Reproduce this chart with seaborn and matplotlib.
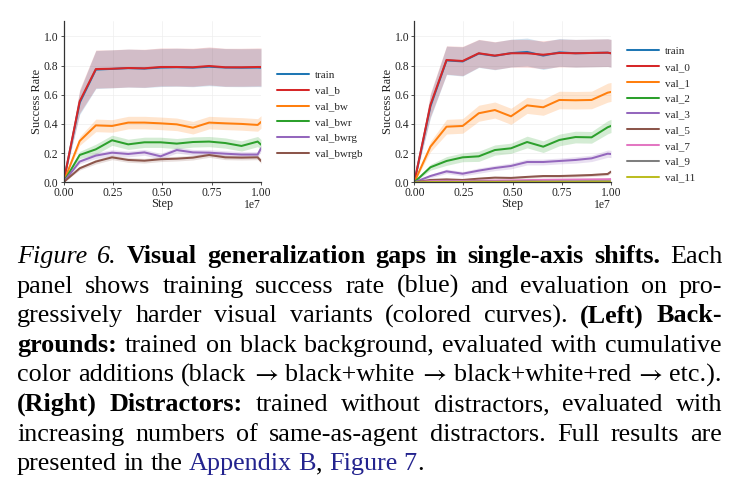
import numpy as np
import pandas as pd
import matplotlib
matplotlib.use('Agg')
import matplotlib.pyplot as plt
import seaborn as sns
from matplotlib.lines import Line2D

# ---------------- data ----------------
steps = [0, 819200, 1638400, 2457600, 3276800, 4096000, 4915200, 5734400,
         6553600, 7372800, 8192000, 9011200, 9830400, 10000000]

# Left panel: backgrounds
left_series = ['train', 'val_b', 'val_bw', 'val_bwr', 'val_bwrg', 'val_bwrgb']
l_train = [0, 0.545, 0.772, 0.777, 0.782, 0.779, 0.786, 0.788, 0.785, 0.792, 0.786, 0.785, 0.786, 0.785]
l_val_b = [0, 0.555, 0.776, 0.778, 0.783, 0.781, 0.790, 0.790, 0.788, 0.797, 0.788, 0.788, 0.790, 0.790]
l_val_bw = [0, 0.283, 0.390, 0.386, 0.409, 0.409, 0.404, 0.397, 0.374, 0.409, 0.404, 0.400, 0.393, 0.413]
l_val_bwr = [0, 0.187, 0.226, 0.288, 0.260, 0.274, 0.274, 0.265, 0.276, 0.279, 0.269, 0.249, 0.279, 0.258]
l_val_bwrg = [0, 0.142, 0.183, 0.203, 0.194, 0.205, 0.178, 0.221, 0.205, 0.203, 0.196, 0.190, 0.190, 0.233]
l_val_bwrgb = [0, 0.096, 0.142, 0.171, 0.153, 0.148, 0.158, 0.162, 0.169, 0.187, 0.171, 0.169, 0.171, 0.146]
l_err_train = [0, 0.08, 0.13, 0.13, 0.13, 0.13, 0.13, 0.13, 0.13, 0.13, 0.13, 0.13, 0.13, 0.13]
l_err_val_b = [0, 0.08, 0.13, 0.13, 0.13, 0.13, 0.13, 0.13, 0.13, 0.13, 0.13, 0.13, 0.13, 0.13]
l_err_val_bw = [0, 0.03, 0.043, 0.043, 0.043, 0.043, 0.043, 0.043, 0.043, 0.043, 0.043, 0.043, 0.043, 0.043]
l_err_val_bwr = [0, 0.025, 0.035, 0.035, 0.035, 0.035, 0.035, 0.035, 0.035, 0.035, 0.035, 0.035, 0.035, 0.035]
l_err_val_bwrg = [0, 0.015, 0.02, 0.02, 0.02, 0.02, 0.02, 0.02, 0.02, 0.02, 0.02, 0.02, 0.02, 0.02]
l_err_val_bwrgb = [0, 0.012, 0.016, 0.016, 0.016, 0.016, 0.016, 0.016, 0.016, 0.016, 0.016, 0.016, 0.016, 0.016]

# Right panel: distractors
right_series = ['train', 'val_0', 'val_1', 'val_2', 'val_3', 'val_5', 'val_7', 'val_9', 'val_11']
r_train = [0, 0.520, 0.835, 0.828, 0.882, 0.866, 0.885, 0.893, 0.868, 0.890, 0.884, 0.886, 0.888, 0.884]
r_val_0 = [0, 0.530, 0.838, 0.831, 0.884, 0.868, 0.884, 0.884, 0.874, 0.886, 0.884, 0.886, 0.888, 0.884]
r_val_1 = [0, 0.244, 0.381, 0.386, 0.473, 0.495, 0.452, 0.527, 0.514, 0.564, 0.562, 0.564, 0.614, 0.619]
r_val_2 = [0, 0.103, 0.146, 0.171, 0.178, 0.221, 0.233, 0.276, 0.244, 0.290, 0.310, 0.308, 0.377, 0.386]
r_val_3 = [0, 0.043, 0.075, 0.059, 0.080, 0.098, 0.112, 0.139, 0.139, 0.146, 0.153, 0.164, 0.196, 0.194]
r_val_5 = [0, 0.016, 0.020, 0.016, 0.025, 0.032, 0.030, 0.037, 0.043, 0.043, 0.046, 0.050, 0.057, 0.073]
r_val_7 = [0, 0.008, 0.010, 0.009, 0.011, 0.012, 0.013, 0.015, 0.017, 0.018, 0.019, 0.020, 0.021, 0.022]
r_val_9 = [0, 0.003, 0.004, 0.004, 0.005, 0.004, 0.005, 0.006, 0.005, 0.006, 0.006, 0.007, 0.007, 0.007]
r_val_11 = [0, 0.002, 0.002, 0.002, 0.003, 0.002, 0.003, 0.003, 0.003, 0.003, 0.003, 0.004, 0.004, 0.004]
r_err_train = [0, 0.08, 0.097, 0.1, 0.095, 0.095, 0.095, 0.095, 0.095, 0.095, 0.095, 0.095, 0.095, 0.095]
r_err_val_0 = [0, 0.08, 0.097, 0.1, 0.095, 0.095, 0.095, 0.095, 0.095, 0.095, 0.095, 0.095, 0.095, 0.095]
r_err_val_1 = [0, 0.035, 0.05, 0.05, 0.055, 0.055, 0.055, 0.055, 0.055, 0.06, 0.06, 0.06, 0.065, 0.065]
r_err_val_2 = [0, 0.02, 0.03, 0.03, 0.035, 0.035, 0.035, 0.04, 0.04, 0.04, 0.04, 0.04, 0.045, 0.045]
r_err_val_3 = [0, 0.012, 0.015, 0.015, 0.018, 0.018, 0.02, 0.02, 0.02, 0.02, 0.022, 0.022, 0.025, 0.025]
r_err_val_5 = [0, 0.006, 0.007, 0.007, 0.008, 0.008, 0.008, 0.009, 0.009, 0.009, 0.01, 0.01, 0.01, 0.01]
r_err_val_7 = [0, 0.004, 0.004, 0.004, 0.005, 0.005, 0.005, 0.005, 0.005, 0.005, 0.005, 0.005, 0.005, 0.005]
r_err_val_9 = [0, 0.002, 0.002, 0.002, 0.002, 0.002, 0.002, 0.002, 0.002, 0.002, 0.002, 0.002, 0.002, 0.002]
r_err_val_11 = [0, 0.001, 0.001, 0.001, 0.001, 0.001, 0.001, 0.001, 0.001, 0.001, 0.001, 0.001, 0.001, 0.001]

colors = ['#1f77b4', '#d62728', '#ff7f0e', '#2ca02c', '#9467bd', '#8c564b',
          '#e377c2', '#7f7f7f', '#bcbd22']

caption_lines = [
    "*Figure 6.* **Visual generalization gaps in single-axis shifts.** Each",
    "panel shows training success rate (blue) and evaluation on pro-",
    "gressively harder visual variants (colored curves). **(Left) Back-**",
    "**grounds:** trained on black background, evaluated with cumulative",
    "color additions (black \u2192 black+white \u2192 black+white+red \u2192 etc.).",
    "**(Right) Distractors:** trained without distractors, evaluated with",
    "increasing numbers of same-as-agent distractors. Full results are",
    "presented in the {Appendix B}, {Figure 7}.",
]

left_means = [l_train, l_val_b, l_val_bw, l_val_bwr, l_val_bwrg, l_val_bwrgb]
left_errs = [l_err_train, l_err_val_b, l_err_val_bw, l_err_val_bwr, l_err_val_bwrg, l_err_val_bwrgb]
right_means = [r_train, r_val_0, r_val_1, r_val_2, r_val_3, r_val_5, r_val_7, r_val_9, r_val_11]
right_errs = [r_err_train, r_err_val_0, r_err_val_1, r_err_val_2, r_err_val_3, r_err_val_5,
              r_err_val_7, r_err_val_9, r_err_val_11]

# ---------------- style ----------------
sns.set_theme(style='whitegrid')
SERIF = ['Liberation Serif', 'DejaVu Serif']
ARROW_FONT = ['STIXGeneral', 'DejaVu Serif']
plt.rcParams['font.family'] = SERIF
plt.rcParams['axes.edgecolor'] = '#333333'
plt.rcParams['grid.color'] = '#eeeeee'
plt.rcParams['grid.linewidth'] = 0.5
plt.rcParams['xtick.color'] = '#222222'
plt.rcParams['ytick.color'] = '#222222'
plt.rcParams['axes.labelcolor'] = '#222222'

W, H = 740, 494
fig = plt.figure(figsize=(W / 100, H / 100), dpi=100)


def make_df(names, means, errs):
    rows = []
    for n, m, e in zip(names, means, errs):
        for s, v, ee in zip(steps, m, e):
            rows.append({'Step': s, 'rate': v, 'err': ee, 'series': n})
    return pd.DataFrame(rows)


def panel(rect, names, means, errs, leg_x):
    ax = fig.add_axes(rect)
    df = make_df(names, means, errs)
    pal = dict(zip(names, colors[:len(names)]))
    for n in names:
        sub = df[df.series == n]
        ax.fill_between(sub['Step'], sub['rate'] - sub['err'], sub['rate'] + sub['err'],
                        color=pal[n], alpha=0.2, lw=0)
    sns.lineplot(data=df, x='Step', y='rate', hue='series', hue_order=names,
                 palette=pal, errorbar=None, lw=1.45, ax=ax, legend=False)
    ax.set_xlim(0, 1e7)
    ax.set_ylim(0, 1.105)
    ax.set_xticks([0, 2.5e6, 5e6, 7.5e6, 1e7])
    ax.set_yticks([0, 0.2, 0.4, 0.6, 0.8, 1.0])
    ax.set_xlabel('Step', fontsize=8.9, labelpad=-1.0)
    ax.set_ylabel('Success Rate', fontsize=8.9, labelpad=0.5)
    ax.tick_params(labelsize=8.4, length=2.5, width=0.6, pad=1.2, color='#333333',
                   bottom=True, left=True)
    ax.xaxis.get_offset_text().set_fontsize(8.4)
    ax.xaxis.OFFSETTEXTPAD = -0.5
    sns.despine(ax=ax)
    for sp in ['left', 'bottom']:
        ax.spines[sp].set_linewidth(0.9)
        ax.spines[sp].set_color('#333333')
    ax.grid(True, color='#eeeeee', lw=0.5)
    handles = [Line2D([], [], color=pal[n], lw=1.45) for n in names]
    ax.legend(handles, names, loc='center left', bbox_to_anchor=(leg_x / W, 1 - 114.5 / H),
              bbox_transform=fig.transFigure, frameon=False, fontsize=8,
              handlelength=2.9, handletextpad=0.55, labelspacing=0.54,
              borderpad=0, borderaxespad=0)
    return ax


ax_top, ax_bot = 21, 182.3
panel([63.5 / W, 1 - ax_bot / H, (261 - 63.5) / W, (ax_bot - ax_top) / H],
      left_series, left_means, left_errs, 277)
panel([414.3 / W, 1 - ax_bot / H, (611 - 414.3) / W, (ax_bot - ax_top) / H],
      right_series, right_means, right_errs, 627)

# ---------------- caption (justified) ----------------
CAP_FS = 18.8
BLUE = '#23238e'


def parse(line):
    words, cur = [], []
    state = {'b': False, 'i': False, 'c': False}
    buf = ''
    i = 0

    def flush(buf):
        if buf:
            cur.append((buf, state['b'], state['i'], state['c']))
        return ''

    while i < len(line):
        if line.startswith('**', i):
            buf = flush(buf); state['b'] = not state['b']; i += 2; continue
        ch = line[i]
        if ch == '*':
            buf = flush(buf); state['i'] = not state['i']; i += 1; continue
        if ch in '{}':
            buf = flush(buf); state['c'] = (ch == '{'); i += 1; continue
        if ch == ' ':
            buf = flush(buf)
            if cur:
                words.append(cur); cur = []
            i += 1; continue
        buf += ch
        i += 1
    buf = flush(buf)
    if cur:
        words.append(cur)
    return words


renderer = fig.canvas.get_renderer()
x_left, x_right = 17.0, 722.0
base0, lstep = 263.0, 29.6
space_w = CAP_FS * 100 / 72 * 0.25

for li, line in enumerate(caption_lines):
    words = parse(line)
    y = 1 - (base0 + li * lstep) / H
    placed = []
    widths = []
    for w in words:
        arts = []
        ww = 0
        for (s, b, it, c) in w:
            fam = ARROW_FONT if s == '\u2192' else SERIF
            t = fig.text(0, y, s, fontsize=CAP_FS, family=fam,
                         weight='bold' if b else 'normal',
                         style='italic' if it else 'normal',
                         color=BLUE if c else 'black', va='baseline', ha='left')
            pw = t.get_window_extent(renderer).width
            arts.append((t, ww))
            ww += pw
        placed.append(arts)
        widths.append(ww)
    total = sum(widths)
    if li < len(caption_lines) - 1 and len(words) > 1:
        gap = max((x_right - x_left - total) / (len(words) - 1), space_w * 0.6)
    else:
        gap = space_w
    x = x_left
    for arts, ww in zip(placed, widths):
        for t, off in arts:
            t.set_x((x + off) / W)
        x += ww + gap

fig.savefig('out.png', dpi=100)
